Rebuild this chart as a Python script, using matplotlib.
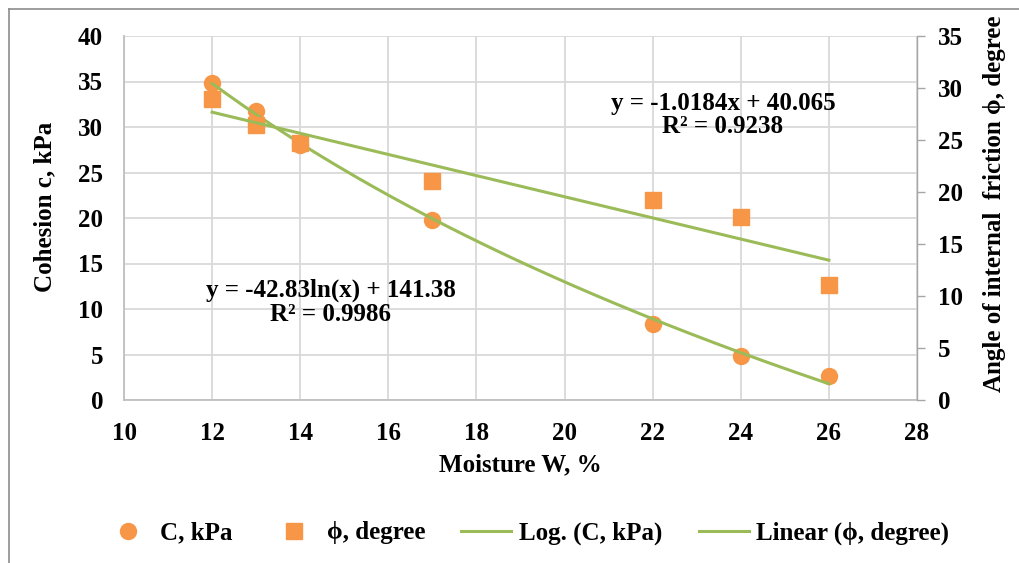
import numpy as np
import matplotlib
matplotlib.use("Agg")
import matplotlib.pyplot as plt
from matplotlib.lines import Line2D

# ---- data ----
moisture = [12, 13, 14, 17, 22, 24, 26]
cohesion = [34.8, 31.8, 28.0, 19.8, 8.4, 4.8, 2.6]
phi_deg = [28.9, 26.4, 24.7, 21.1, 19.2, 17.6, 11.1]
x_ticks = [10, 12, 14, 16, 18, 20, 22, 24, 26, 28]
y_left_ticks = [0, 5, 10, 15, 20, 25, 30, 35, 40]
y_right_ticks = [0, 5, 10, 15, 20, 25, 30, 35]
eq_log = "y = -42.83ln(x) + 141.38\nR² = 0.9986"
eq_lin = "y = -1.0184x + 40.065\nR² = 0.9238"

ORANGE = "#F79646"
GREEN = "#9BBB59"
GRID = "#D9D9D9"
AXC = "#BFBFBF"
FONT = "Liberation Serif"

plt.rcParams["font.family"] = [FONT, "DejaVu Serif"]
plt.rcParams["font.weight"] = "bold"

W, H = 1019, 563
fig = plt.figure(figsize=(W / 100, H / 100), dpi=100)

def fx(px):
    return px / W

def fy(py):
    return 1 - py / H

L, R, T, B = 124, 917, 36, 400
ax = fig.add_axes([fx(L), fy(B), fx(R - L), fy(T) - fy(B)])
ax2 = ax.twinx()

ax.set_xlim(10, 28)
ax.set_ylim(0, 40)
ax2.set_ylim(0, 35)
ax.set_xticks(x_ticks)
ax.set_yticks(y_left_ticks)
ax2.set_yticks(y_right_ticks)

ax.grid(True, color=GRID, linewidth=1.3)
ax.set_axisbelow(True)
for s in ["top", "right"]:
    ax.spines[s].set_visible(False)
ax.spines["left"].set_color(AXC)
ax.spines["bottom"].set_color(AXC)
ax.spines["left"].set_linewidth(1.3)
ax.spines["bottom"].set_linewidth(1.3)
for s in ["top", "left", "bottom"]:
    ax2.spines[s].set_visible(False)
ax2.spines["right"].set_color("#A6A6A6")
ax2.spines["right"].set_linewidth(1.0)

fs = 18
ax.tick_params(axis="y", length=0, pad=15, labelsize=fs)
ax.tick_params(axis="x", length=0, pad=16, labelsize=fs)
ax2.tick_params(axis="y", length=6, width=1.0, color="#A6A6A6", direction="out", pad=9, labelsize=fs)
for lab in ax.get_xticklabels() + ax.get_yticklabels() + ax2.get_yticklabels():
    lab.set_fontweight("bold")

# markers
ax.plot(moisture, cohesion, linestyle="none", marker="o", markersize=11.5,
        color=ORANGE, zorder=2)
ax2.plot(moisture, phi_deg, linestyle="none", marker="s", markersize=11.5,
         color=ORANGE, zorder=3)

# trendlines (fitted from the data)
xs = np.linspace(min(moisture), max(moisture), 200)
a, b = np.polyfit(np.log(moisture), cohesion, 1)
ax.plot(xs, a * np.log(xs) + b, color=GREEN, linewidth=2.2, zorder=4)
m, c = np.polyfit(moisture, phi_deg, 1)
xl = np.array([min(moisture), max(moisture)])
ax2.plot(xl, m * xl + c, color=GREEN, linewidth=2.2, zorder=5)

# equations
fig.text(fx(331), fy(302), eq_log, ha="center", va="center", fontsize=fs,
         fontweight="bold", linespacing=1.05)
fig.text(fx(723), fy(115), eq_lin, ha="center", va="center", fontsize=fs,
         fontweight="bold", linespacing=1.05)

# axis labels
fig.text(fx(45), fy(207), "Cohesion c, kPa", rotation=90, ha="center", va="center",
         fontsize=fs, fontweight="bold")
fig.text(fx(995), fy(204), "Angle of internal  friction ϕ, degree", rotation=90,
         ha="center", va="center", fontsize=fs, fontweight="bold")
fig.text(fx(520), fy(465), "Moisture W, %", ha="center", va="center",
         fontsize=fs, fontweight="bold")

# legend
handles = [
    Line2D([], [], linestyle="none", marker="o", markersize=11.5, color=ORANGE),
    Line2D([], [], linestyle="none", marker="s", markersize=11.5, color=ORANGE),
    Line2D([], [], color=GREEN, linewidth=2.2),
    Line2D([], [], color=GREEN, linewidth=2.2),
]
labels = ["C, kPa", "ϕ, degree", "Log. (C, kPa)", "Linear (ϕ, degree)"]
fig.legend(handles, labels, loc="center", bbox_to_anchor=(fx(526), fy(533)),
           ncol=4, frameon=False, prop={"family": FONT, "weight": "bold", "size": fs},
           handlelength=2.0, columnspacing=1.45, handletextpad=0.3)

# outer chart border (cut at right and bottom)
fig.add_artist(Line2D([fx(9), fx(W)], [fy(9), fy(9)], color="#8C8C8C", linewidth=1.2))
fig.add_artist(Line2D([fx(9), fx(9)], [fy(9), fy(H)], color="#8C8C8C", linewidth=1.2))

fig.savefig("out.png", dpi=100, facecolor="white")
